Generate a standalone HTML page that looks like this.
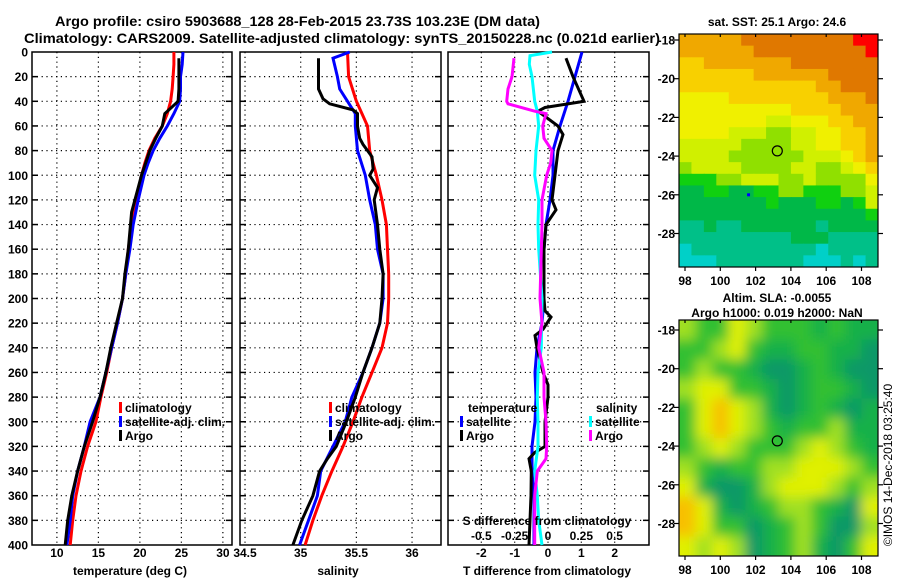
<!DOCTYPE html>
<html><head><meta charset="utf-8"><style>
html,body{margin:0;padding:0;background:#fff;}
svg{display:block;font-family:"Liberation Sans",sans-serif;font-weight:bold;}
</style></head><body>
<svg id="fig" width="900" height="580" viewBox="0 0 900 580" xmlns="http://www.w3.org/2000/svg">
<rect width="900" height="580" fill="#fff"/>
<text x="55" y="26" font-size="13.5" textLength="485" lengthAdjust="spacingAndGlyphs">Argo profile: csiro 5903688_128 28-Feb-2015 23.73S 103.23E (DM data)</text>
<text x="24" y="43" font-size="13.5" textLength="636" lengthAdjust="spacingAndGlyphs">Climatology: CARS2009. Satellite-adjusted climatology: synTS_20150228.nc (0.021d earlier)</text>
<text x="777" y="26" font-size="12" text-anchor="middle">sat. SST: 25.1 Argo: 24.6</text>
<text x="777" y="302" font-size="12" text-anchor="middle">Altim. SLA: -0.0055</text>
<text x="777" y="317" font-size="12" text-anchor="middle">Argo h1000: 0.019 h2000: NaN</text>
<text x="0" y="0" font-size="12" font-weight="normal" text-anchor="middle" transform="translate(892,465) rotate(-90)">©IMOS 14-Dec-2018 03:25:40</text>
<g id="g"></g>
</svg>
<script>
// ---------- data ----------
const depthTicks = [0,20,40,60,80,100,120,140,160,180,200,220,240,260,280,300,320,340,360,380,400];
const tempTicks = [10,15,20,25,30];
const salTicks = [34.5,35,35.5,36];
const tdiffTicks = [-2,-1,0,1,2];
const sdiffTicks = [-0.5,-0.25,0,0.25,0.5];
const sdiffTickLabels = ["-0.5","-0.25","0","0.25","0.5"];

const climTDepth = [0,10,20,30,40,50,60,70,80,90,100,120,140,160,180,200,220,240,260,280,300,320,340,360,380,400];
const climT = [24.1,24.1,24.0,23.9,23.7,23.3,22.7,21.8,21.1,20.6,20.2,19.6,19.0,18.6,18.3,17.9,17.3,16.6,16.0,15.3,14.7,13.7,12.9,12.3,11.9,11.6];
const satTDepth = climTDepth;
const satT = [25.2,25.1,24.9,24.9,24.8,24.1,23.3,22.4,21.6,21.0,20.5,19.8,19.2,18.8,18.3,17.9,17.3,16.6,15.9,15.2,14.0,13.3,12.5,11.9,11.6,11.2];
const argoTDepth = [5,20,30,40,50,60,70,80,90,100,110,130,160,180,200,220,240,260,280,300,320,340,360,380,400];
const argoT = [24.7,24.7,24.7,24.6,23.0,22.7,21.9,21.2,20.7,20.2,19.8,19.0,18.6,18.2,17.9,17.2,16.5,15.9,15.2,14.3,13.3,12.5,11.8,11.3,11.0];

const climSDepth = [0,20,40,60,80,100,120,140,160,180,200,220,240,260,280,300,320,340,360,380,400];
const climS = [35.42,35.43,35.50,35.60,35.62,35.68,35.73,35.77,35.78,35.79,35.79,35.78,35.73,35.64,35.55,35.47,35.38,35.28,35.19,35.11,35.04];
const satSDepth = [0,5,20,30,40,50,60,80,100,120,140,160,180,200,220,240,260,280,300,320,340,360,380,400];
const satS = [35.44,35.29,35.33,35.35,35.42,35.49,35.49,35.51,35.58,35.62,35.67,35.69,35.74,35.74,35.71,35.64,35.56,35.46,35.40,35.29,35.18,35.15,35.07,34.99];
const argoSDepth = [5,30,38,42,47,50,60,70,75,85,95,100,110,120,140,160,180,200,220,240,260,280,300,320,330,340,360,380,400];
const argoS = [35.16,35.16,35.20,35.26,35.47,35.51,35.51,35.53,35.56,35.64,35.65,35.62,35.69,35.66,35.69,35.71,35.74,35.73,35.71,35.64,35.56,35.49,35.41,35.32,35.24,35.17,35.11,35.01,34.93];

const satTdDepth = [0,20,40,60,80,100,120,140,160,200,220,240,260,280,300,320,340,360,380,400];
const satTd = [1.02,0.81,0.6,0.36,0.15,0.15,0.06,-0.06,-0.12,-0.12,-0.18,-0.33,-0.39,-0.36,-0.39,-0.48,-0.48,-0.42,-0.42,-0.42];
const argoTdDepth = [5,20,40,45,48,60,67,80,100,120,128,140,160,200,210,215,225,230,240,260,270,280,300,320,325,330,340,360,380,400];
const argoTd = [0.54,0.75,1.08,-0.09,-0.3,0.3,0.45,0.3,0.21,0.12,0.24,-0.06,-0.12,-0.12,-0.09,0.09,-0.15,-0.39,-0.33,-0.15,0,0,-0.09,-0.09,-0.4,-0.57,-0.5,-0.51,-0.54,-0.57];
const satSdDepth = [0,3,10,20,40,48,60,80,100,120,140,160,200,240,260,280,300,320,340,360,380,400];
const satSd = [0.03,-0.135,-0.14,-0.12,-0.1,-0.08,-0.07,-0.09,-0.1,-0.07,-0.075,-0.07,-0.045,-0.05,-0.075,-0.08,-0.075,-0.075,-0.1,-0.08,-0.07,-0.045];
const argoSdDepth = [5,20,30,40,42,48,50,60,70,80,90,100,120,140,200,220,240,260,280,300,320,330,340,360,380,400];
const argoSd = [-0.255,-0.27,-0.3,-0.31,-0.3,-0.1,-0.015,-0.04,-0.03,0.03,0.02,-0.01,-0.045,-0.045,-0.06,-0.045,-0.07,-0.03,-0.03,-0.015,-0.01,-0.015,-0.08,-0.1,-0.1,-0.1];

const lonTicks = [98,100,102,104,106,108];
const latTicks = [-18,-20,-22,-24,-26,-28];
const sstGrid = [
"iiiiijjjjjjjjjkk","iiiiiijjjjjjjjjk","hhiiiiiiijjjjjjj","hhhhhhiiiiiijjjj","hhhhhhhhhhhiijjj",
"gggghhhhhhhhiiij","ggggggggghhhhiii","gggggggffggghhii","ggggfffeeffgghhi","fffffeeeeffgghhi",
"ffffeeeeeefffghi","effffeeeeffeefgh","dddeefffeefeeeeg","ccddccddeedddeef","cccccccdcccddcdf",
"cccccccccccccccd","bbcbbccccccbcccc","bbbbbbbbbcccbbbb","abbbbbbbbbbabbbb","aaabbbbbbbaaabab"];
const slaGrid = [
"LGGYLGGGgGgg","GGLYGggGGggT","GLGGgTTgGgTT","LYYGGgTgGGgT","GYOYLgTgGgTg","GYOYLGgGGLgg",
"GLYLGGGLYLGg","LGgGGLLYYYLG","YgTTgLYYYLGL","OYgTgGLLGgTY","OYGGTgGLGTTL","YLYLTgGLgTGY"];
const argoLon = 103.23, argoLat = -23.73;

// ---------- drawing ----------
const NS="http://www.w3.org/2000/svg";
const root=document.getElementById('g');
function mk(tag,attrs,parent){const e=document.createElementNS(NS,tag);for(const k in attrs)e.setAttribute(k,attrs[k]);(parent||root).appendChild(e);return e;}
const Y0=52,Y1=545;
const yD=d=>Y0+d*(Y1-Y0)/400;

function panel(name,x0,x1,xmin,xmax,ticks){
  const sx=v=>x0+(v-xmin)*(x1-x0)/(xmax-xmin);
  const g=mk('g',{});
  
  
  ticks.forEach(t=>{const l=mk('line',{x1:sx(t),x2:sx(t),y1:Y0,y2:Y1,stroke:'#000','stroke-width':1.2,'stroke-dasharray':'1.2,3.6'},g);
    });
  depthTicks.forEach(d=>{if(d===0||d===400)return;const l=mk('line',{x1:x0,x2:x1,y1:yD(d),y2:yD(d),stroke:'#000','stroke-width':1.2,'stroke-dasharray':'1.2,3.6'},g);
    
    mk('line',{x1:x0,x2:x0+6,y1:yD(d),y2:yD(d),stroke:'#000','stroke-width':1.5},g);
    mk('line',{x1:x1-6,x2:x1,y1:yD(d),y2:yD(d),stroke:'#000','stroke-width':1.5},g);});
  const f=mk('rect',{x:x0,y:Y0,width:x1-x0,height:Y1-Y0,fill:'none',stroke:'#000','stroke-width':1.5},g);
  
  return {sx,g};
}
function series(p,name,xs,ds,color){
  const pts=xs.map((v,i)=>p.sx(v).toFixed(1)+','+yD(ds[i]).toFixed(1)).join(' ');
  const l=mk('polyline',{points:pts,fill:'none',stroke:color,'stroke-width':3,'stroke-linejoin':'miter'},p.g);
  
  
}
function txt(s,x,y,name,opt){const t=mk('text',Object.assign({x:x,y:y,'font-size':12},opt||{}));t.textContent=s;
  return t;}
function legend(x,y,color,label,name){
  const r=mk('rect',{x:x,y:y-10,width:3,height:11,fill:color});
  
  txt(label,x+6,y,name);
}

depthTicks.forEach(d=>txt(String(d),28,yD(d)+4.5,'y-tick-label',{'text-anchor':'end'}));

const p1=panel('temperature-panel',32,232,7,31.1,tempTicks);
series(p1,'temperature-climatology',climT,climTDepth,'#ff0000');
series(p1,'temperature-satellite-adj',satT,satTDepth,'#0000ff');
series(p1,'temperature-argo',argoT,argoTDepth,'#000000');
tempTicks.forEach(t=>txt(String(t),p1.sx(t),557,'temperature-tick-label',{'text-anchor':'middle'}));
txt('temperature (deg C)',130,575,'temperature-axis-title',{'text-anchor':'middle'});
legend(119,412,'#ff0000','climatology','legend-climatology');
legend(119,426,'#0000ff','satellite-adj. clim.','legend-satellite-adj');
legend(119,440,'#000000','Argo','legend-argo');

const p2=panel('salinity-panel',240,441,34.455,36.26,salTicks);
series(p2,'salinity-climatology',climS,climSDepth,'#ff0000');
series(p2,'salinity-satellite-adj',satS,satSDepth,'#0000ff');
series(p2,'salinity-argo',argoS,argoSDepth,'#000000');
salTicks.forEach(t=>txt(String(t),p2.sx(t),557,'salinity-tick-label',{'text-anchor':'middle'}));
txt('salinity',338,575,'salinity-axis-title',{'text-anchor':'middle'});
legend(329,412,'#ff0000','climatology','legend-climatology-s');
legend(329,426,'#0000ff','satellite-adj. clim.','legend-satellite-adj-s');
legend(329,440,'#000000','Argo','legend-argo-s');

const p3=panel('difference-panel',448,649,-3.0,3.03,tdiffTicks);
const sS=v=>548+v*133.3;
const pS={sx:sS,g:p3.g};
series(p3,'tdiff-satellite',satTd,satTdDepth,'#0000ff');
series(p3,'tdiff-argo',argoTd,argoTdDepth,'#000000');
series(pS,'sdiff-satellite',satSd,satSdDepth,'#00ffff');
series(pS,'sdiff-argo',argoSd,argoSdDepth,'#ff00ff');
tdiffTicks.forEach(t=>txt(String(t),p3.sx(t),557,'tdiff-tick-label',{'text-anchor':'middle'}));
sdiffTicks.forEach((t,i)=>txt(sdiffTickLabels[i],sS(t),540,'sdiff-tick-label',{'text-anchor':'middle'}));
txt('S difference from climatology',547,525,'sdiff-axis-title',{'text-anchor':'middle'});
txt('T difference from climatology',547,575,'tdiff-axis-title',{'text-anchor':'middle'});
txt('temperature',468,412,'legend-temperature-heading');
legend(460,426,'#0000ff','satellite','legend-tdiff-satellite');
legend(460,440,'#000000','Argo','legend-tdiff-argo');
txt('salinity',596,412,'legend-salinity-heading');
legend(589,426,'#00ffff','satellite','legend-sdiff-satellite');
legend(589,440,'#ff00ff','Argo','legend-sdiff-argo');

const sstPal={a:'#00d0c8',b:'#00c088',c:'#00b848',d:'#10d010',e:'#90e000',f:'#d0f000',g:'#f0f000',h:'#f8d000',i:'#f0a800',j:'#e07800',k:'#ff0000'};
const slaPal={G:'#30c030',g:'#18b048',T:'#089868',L:'#a0e020',Y:'#e0f000',O:'#f8c000'};
function map(name,top,bottom,lat0,grid,pal,blur){
  const X0=679,X1=878;
  const lx=lon=>685+(lon-98)*17.65;
  const ly=lat=>lat0+(-18-lat)*19.35;
  const g=mk('g',{});
  const cid=name+'-clip';
  const defs=mk('defs',{},g);
  const cp=mk('clipPath',{id:cid},defs);mk('rect',{x:X0,y:top,width:X1-X0,height:bottom-top},cp);
  let fattr={};
  if(blur){const fl=mk('filter',{id:name+'-blur',x:'-10%',y:'-10%',width:'120%',height:'120%'},defs);mk('feGaussianBlur',{stdDeviation:blur},fl);fattr={filter:'url(#'+name+'-blur)'};}
  const cg=mk('g',{'clip-path':'url(#'+cid+')'},g);
  const ig=mk('g',fattr,cg);
  const rows=grid.length,cols=grid[0].length;
  const cw=(X1-X0)/cols,ch=(bottom-top)/rows;
  const pad=blur?12:0;
  for(let r=0;r<rows;r++)for(let c=0;c<cols;c++){
    let x=X0+c*cw,y=top+r*ch,w=cw+0.6,h=ch+0.6;
    if(c===0){x-=pad;w+=pad;} if(c===cols-1)w+=pad; if(r===0){y-=pad;h+=pad;} if(r===rows-1)h+=pad;
    const cell=mk('rect',{x:x,y:y,width:w,height:h,fill:pal[grid[r][c]]},ig);
    
    
  }
  const fr=mk('rect',{x:X0,y:top,width:X1-X0,height:bottom-top,fill:'none',stroke:'#000','stroke-width':1.2},g);
  
  latTicks.forEach(l=>{const y=ly(l);
    mk('line',{x1:X0-5,x2:X0,y1:y,y2:y,stroke:'#000','stroke-width':1.2},g);
    mk('line',{x1:X1,x2:X1+5,y1:y,y2:y,stroke:'#000','stroke-width':1.2},g);
    txt(String(l),675,y+4.5,'map-lat-label',{'text-anchor':'end'});});
  lonTicks.forEach(l=>{const x=lx(l);
    mk('line',{x1:x,x2:x,y1:bottom,y2:bottom+4,stroke:'#000','stroke-width':1.2},g);
    mk('line',{x1:x,x2:x,y1:top,y2:top+3,stroke:'#000','stroke-width':1.2},g);
    txt(String(l),x,bottom+18,'map-lon-label',{'text-anchor':'middle'});});
  const m=mk('circle',{cx:lx(argoLon),cy:ly(argoLat),r:5,fill:'none',stroke:'#000','stroke-width':1.2},g);
  
  return {lx,ly,g};
}
const m1=map('sst-map',34,267,40,sstGrid,sstPal,0);
const bp=mk('rect',{x:m1.lx(101.6)-1.5,y:m1.ly(-26)-1.5,width:3,height:3,fill:'#0000ff'},m1.g);

map('sla-map',320,556,330,slaGrid,slaPal,6);
</script>
</body></html>
